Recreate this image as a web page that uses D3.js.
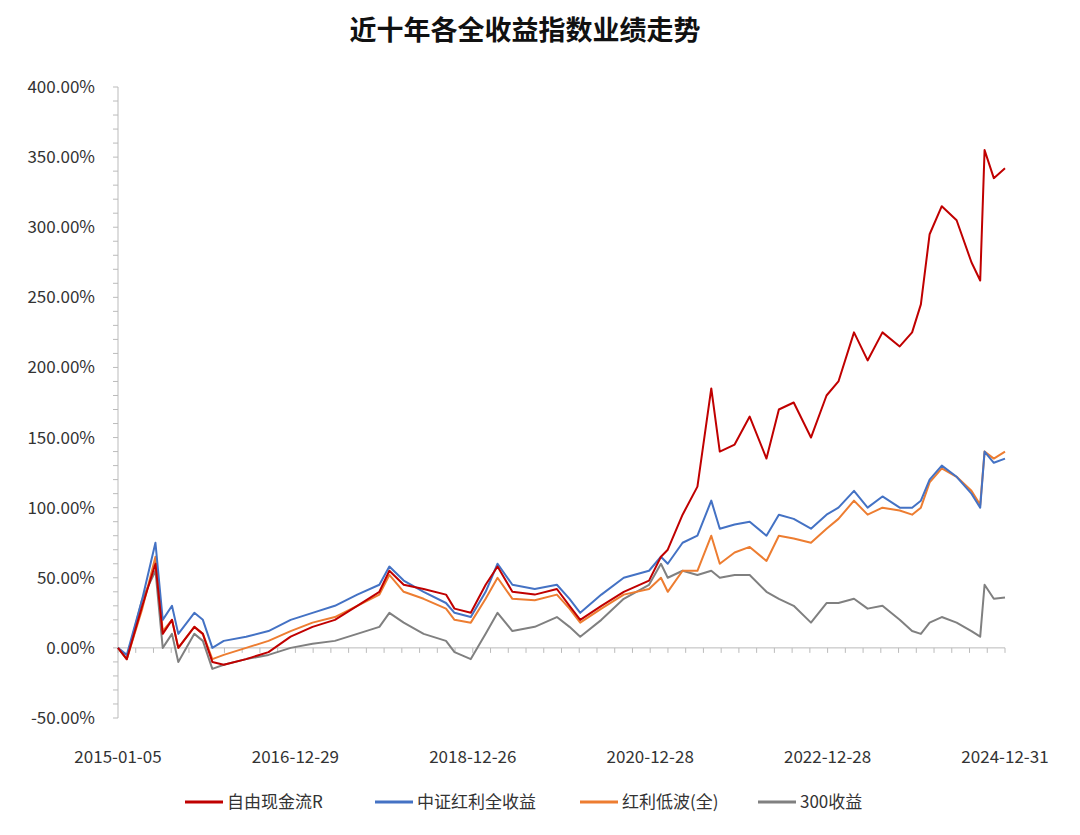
<!DOCTYPE html>
<html><head><meta charset="utf-8">
<script src="https://cdn.jsdelivr.net/npm/d3@7"></script>
<style>body{margin:0;background:#fff;font-family:"Noto Sans CJK SC","Noto Sans",sans-serif;}</style>
</head><body><svg id="chart" width="1080" height="835"></svg>
<script>
const dates = ["2015-01-05","2015-02-10","2015-04-15","2015-06-08","2015-07-08","2015-08-15","2015-09-10","2015-11-15","2015-12-20","2016-01-28","2016-03-15","2016-06-15","2016-09-15","2016-12-15","2017-03-15","2017-06-15","2017-09-15","2017-12-15","2018-01-25","2018-03-25","2018-06-15","2018-09-15","2018-10-20","2018-12-26","2019-02-25","2019-04-15","2019-06-15","2019-09-15","2019-12-15","2020-02-05","2020-03-20","2020-06-15","2020-09-15","2020-12-28","2021-02-15","2021-03-15","2021-05-15","2021-07-15","2021-09-10","2021-10-15","2021-12-15","2022-02-15","2022-04-25","2022-06-15","2022-08-15","2022-10-25","2022-12-28","2023-02-15","2023-04-20","2023-06-15","2023-08-15","2023-10-25","2023-12-15","2024-01-20","2024-02-25","2024-04-15","2024-06-15","2024-08-15","2024-09-20","2024-10-08","2024-11-15","2024-12-31"];
const redVals = [0,-8,30,60,10,20,0,15,10,-10,-12,-8,-3,8,15,20,30,40,55,45,42,38,28,25,45,58,40,38,42,30,20,30,40,48,65,70,95,115,185,140,145,165,135,170,175,150,180,190,225,205,225,215,225,245,295,315,305,275,262,355,335,342];
const blueVals = [0,-5,35,75,20,30,10,25,20,0,5,8,12,20,25,30,38,45,58,48,40,32,25,22,40,60,45,42,45,35,25,38,50,55,65,60,75,80,105,85,88,90,80,95,92,85,95,100,112,100,108,100,100,105,120,130,122,110,100,140,132,135];
const orangeVals = [0,-8,28,65,12,20,0,15,10,-8,-5,0,5,12,18,22,30,38,52,40,35,28,20,18,35,50,35,34,38,28,18,28,38,42,50,40,55,55,80,60,68,72,62,80,78,75,85,92,105,95,100,98,95,100,118,128,122,112,102,140,135,140];
const grayVals = [0,-8,35,55,0,10,-10,10,5,-15,-12,-8,-5,0,3,5,10,15,25,18,10,5,-3,-8,10,25,12,15,22,15,8,20,35,45,60,50,55,52,55,50,52,52,40,35,30,18,32,32,35,28,30,20,12,10,18,22,18,12,8,45,35,36];
const series = [
  {name:"300收益", vals:grayVals, color:"#808080"},
  {name:"红利低波(全)", vals:orangeVals, color:"#ed7d31"},
  {name:"中证红利全收益", vals:blueVals, color:"#4472c4"},
  {name:"自由现金流R", vals:redVals, color:"#c00000"}
];
const legendOrder = ["自由现金流R","中证红利全收益","红利低波(全)","300收益"];
const xTickLabels = ["2015-01-05","2016-12-29","2018-12-26","2020-12-28","2022-12-28","2024-12-31"];
const yTicks = [-50,0,50,100,150,200,250,300,350,400];

const svg = d3.select("#chart");
const parse = d3.timeParse("%Y-%m-%d");
const x = d3.scaleTime().domain([parse(dates[0]), parse(dates[dates.length-1])]).range([118,1005]);
const xLab = d3.scaleLinear().domain([0, xTickLabels.length-1]).range([118,1005]);
const y = d3.scaleLinear().domain([-50,400]).range([718,87]);

svg.append("text").attr("x",525).attr("y",40).attr("text-anchor","middle")
  .attr("font-size",27).attr("font-weight","bold").attr("fill","#111").text("近十年各全收益指数业绩走势");

svg.append("line").attr("x1",118).attr("x2",118).attr("y1",87).attr("y2",718).attr("stroke","#bbb");
d3.range(-50,401,10).forEach(v=>{
  svg.append("line").attr("x1",113).attr("x2",118).attr("y1",y(v)).attr("y2",y(v)).attr("stroke","#bbb");
});
yTicks.forEach(v=>{
  svg.append("text").attr("x",95).attr("y",y(v)+6).attr("text-anchor","end")
    .attr("font-size",17).attr("fill","#333").text(v.toFixed(2)+"%");
});
svg.append("line").attr("x1",118).attr("x2",1005).attr("y1",y(0)).attr("y2",y(0)).attr("stroke","#bbb");
d3.range(0,51).forEach(i=>{
  const px = 118 + i*(1005-118)/50;
  svg.append("line").attr("x1",px).attr("x2",px).attr("y1",y(0)).attr("y2",y(0)+5).attr("stroke","#bbb");
});
xTickLabels.forEach((t,i)=>{
  svg.append("text").attr("x",xLab(i)).attr("y",763).attr("text-anchor","middle")
    .attr("font-size",17).attr("fill","#333").text(t);
});

const line = d3.line().x((d,i)=>x(parse(dates[i]))).y(d=>y(d));
series.forEach(s=>{
  svg.append("path").datum(s.vals).attr("d",line).attr("fill","none")
    .attr("stroke",s.color).attr("stroke-width",2).attr("stroke-linejoin","round");
});

const legX = [185,375,580,758];
legendOrder.forEach((n,i)=>{
  const s = series.find(d=>d.name===n);
  svg.append("line").attr("x1",legX[i]).attr("x2",legX[i]+38).attr("y1",802).attr("y2",802)
    .attr("stroke",s.color).attr("stroke-width",3);
  svg.append("text").attr("x",legX[i]+42).attr("y",808).attr("font-size",17).attr("fill","#333").text(n);
});
</script></body></html>
